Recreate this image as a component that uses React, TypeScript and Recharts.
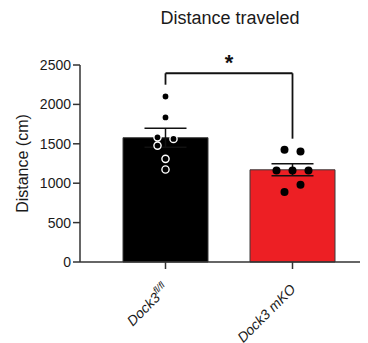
import { Bar, Cell, ComposedChart, ErrorBar, ReferenceLine, Scatter, XAxis, YAxis } from 'recharts';

// group means and SEM
const groups = ['Dock3fl/fl', 'Dock3 mKO'];
const means = [1577, 1170];
const sems = [120, 77];

// individual animals (slot = jitter column)
const ctrlValues = [2100, 1835, 1582, 1562, 1477, 1309, 1174];
const ctrlSlots = [0, 0, -1, 1, -1, 0, 0];
const mkoValues = [1423, 1402, 1162, 1162, 1162, 981, 888];
const mkoSlots = [-1, 1, -2, 0, 2, 1, -1];

const yTicks = [0, 500, 1000, 1500, 2000, 2500];

// significance bracket
const bracketTop = 2395;
const bracketLeftEnd = 2250;
const bracketRightEnd = 1565;

const barData = groups.map((name, i) => ({ name, mean: means[i], sem: sems[i] }));
const pointData = [
    ...ctrlValues.map((value, i) => ({ name: groups[0], value, slot: ctrlSlots[i], ring: true })),
    ...mkoValues.map((value, i) => ({ name: groups[1], value, slot: mkoSlots[i], ring: false })),
];

const FONT = 'Liberation Sans, Arial, sans-serif';

function GroupTick({ x, y, payload }: any) {
    const label = String(payload.value);
    const ax = x + 4;
    const ay = y + 19;
    return (
        <text
            x={ax}
            y={ay}
            textAnchor="end"
            transform={`rotate(-45, ${ax}, ${ay})`}
            fontSize={14}
            fontStyle="italic"
            fontFamily={FONT}
            fill="#1a1a1a"
        >
            {label === 'Dock3fl/fl' ? (
                <>
                    Dock3
                    <tspan dy={-6} fontSize={9.5}>
                        fl/fl
                    </tspan>
                </>
            ) : (
                label
            )}
        </text>
    );
}

function Dot(props: any) {
    const { cx, cy, payload } = props;
    if (cx == null || cy == null) return null;
    return (
        <circle
            cx={cx + payload.slot * 8}
            cy={cy}
            r={payload.ring ? 3.6 : 4}
            fill="#000"
            stroke={payload.ring ? '#fff' : 'none'}
            strokeWidth={1.4}
        />
    );
}

export default function App() {
    return (
        <div style={{ position: 'absolute', left: 0, top: 0, width: 368, height: 343, background: '#fff' }}>
            <div
                style={{
                    position: 'absolute',
                    left: 130,
                    top: 9,
                    width: 200,
                    textAlign: 'center',
                    fontFamily: FONT,
                    fontSize: 18,
                    lineHeight: '18px',
                    color: '#1a1a1a',
                }}
            >
                Distance traveled
            </div>
            <ComposedChart
                width={368}
                height={343}
                data={barData}
                margin={{ top: 65, right: 8, bottom: 0, left: 0 }}
            >
                <XAxis
                    dataKey="name"
                    height={81}
                    allowDuplicatedCategory={false}
                    padding={{ left: 22, right: 4 }}
                    tickSize={7}
                    tick={<GroupTick />}
                    interval={0}
                    axisLine={{ stroke: '#333', strokeWidth: 1.5 }}
                    tickLine={{ stroke: '#333', strokeWidth: 1.5 }}
                />
                <YAxis
                    width={80}
                    domain={[0, 2500]}
                    ticks={yTicks}
                    tickSize={7}
                    tickMargin={2}
                    axisLine={{ stroke: '#333', strokeWidth: 1.5 }}
                    tickLine={{ stroke: '#333', strokeWidth: 1.5 }}
                    tick={{ fill: '#1a1a1a', fontSize: 14, fontFamily: FONT }}
                    label={{
                        value: 'Distance (cm)',
                        angle: -90,
                        position: 'center',
                        dx: -18,
                        fill: '#1a1a1a',
                        fontSize: 16,
                        fontFamily: FONT,
                    }}
                />
                <Bar dataKey="mean" barSize={85} stroke="#3a3a3a" strokeWidth={1} isAnimationActive={false}>
                    {barData.map((d, i) => (
                        <Cell key={d.name} fill={i === 0 ? '#000' : '#ed1f24'} />
                    ))}
                    <ErrorBar dataKey="sem" width={21} stroke="#111" strokeWidth={1.5} />
                </Bar>
                <Scatter data={pointData} dataKey="value" shape={<Dot />} isAnimationActive={false} />
                <ReferenceLine
                    segment={[
                        { x: groups[0], y: bracketTop },
                        { x: groups[1], y: bracketTop },
                    ]}
                    stroke="#111"
                    strokeWidth={1.8}
                    label={{ value: '*', position: 'top', offset: 3, fontSize: 22, fontWeight: 'bold', fill: '#111', fontFamily: FONT }}
                />
                <ReferenceLine
                    segment={[
                        { x: groups[0], y: bracketTop },
                        { x: groups[0], y: bracketLeftEnd },
                    ]}
                    stroke="#111"
                    strokeWidth={1.8}
                />
                <ReferenceLine
                    segment={[
                        { x: groups[1], y: bracketTop },
                        { x: groups[1], y: bracketRightEnd },
                    ]}
                    stroke="#111"
                    strokeWidth={1.8}
                />
            </ComposedChart>
        </div>
    );
}
